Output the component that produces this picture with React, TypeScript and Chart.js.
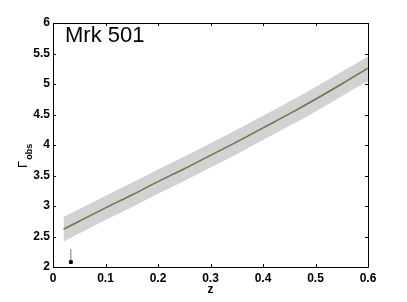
import React, { useEffect, useRef } from "react";
import { Chart, registerables } from "chart.js";

Chart.register(...registerables);

const zValues = [0.02, 0.05, 0.1, 0.15, 0.2, 0.25, 0.3, 0.35, 0.4, 0.45, 0.5, 0.55, 0.6];
const gammaMid = [2.62, 2.75, 2.97, 3.18, 3.4, 3.61, 3.83, 4.05, 4.28, 4.51, 4.75, 5.0, 5.26];
const gammaUpper = [2.82, 2.95, 3.17, 3.38, 3.6, 3.81, 4.03, 4.25, 4.48, 4.71, 4.95, 5.2, 5.45];
const gammaLower = [2.42, 2.55, 2.77, 2.98, 3.2, 3.41, 3.63, 3.85, 4.08, 4.31, 4.55, 4.8, 5.05];
const obsZ = [0.034];
const obsGamma = [2.08];
const obsGammaTop = [2.29];
const xTicks = [0, 0.1, 0.2, 0.3, 0.4, 0.5, 0.6];
const yTicks = [2, 2.5, 3, 3.5, 4, 4.5, 5, 5.5, 6];
const titleText = "Mrk 501";
const xTitle = "z";
const yTitleMain = "Γ";
const yTitleSub = "obs";

const framePlugin = {
  id: "frame",
  afterDraw(chart: any) {
    const { ctx, chartArea: a, scales } = chart;
    const xs = scales.x;
    const ys = scales.y;
    ctx.save();
    ctx.strokeStyle = "#000";
    ctx.lineWidth = 1;
    ctx.beginPath();
    ctx.rect(Math.round(a.left) + 0.5, Math.round(a.top) + 0.5, Math.round(a.right - a.left), Math.round(a.bottom - a.top));
    ctx.stroke();
    const L = 3;
    ctx.beginPath();
    xTicks.forEach((t) => {
      const px = Math.round(xs.getPixelForValue(t)) + 0.5;
      ctx.moveTo(px, a.bottom);
      ctx.lineTo(px, a.bottom - L);
      ctx.moveTo(px, a.top);
      ctx.lineTo(px, a.top + L);
    });
    yTicks.forEach((t) => {
      const py = Math.round(ys.getPixelForValue(t)) + 0.5;
      ctx.moveTo(a.left, py);
      ctx.lineTo(a.left + L, py);
      ctx.moveTo(a.right, py);
      ctx.lineTo(a.right - L, py);
    });
    ctx.stroke();

    ctx.fillStyle = "#000";
    ctx.font = "22px 'Liberation Sans', Arial, sans-serif";
    ctx.textAlign = "left";
    ctx.textBaseline = "alphabetic";
    ctx.fillText(titleText, a.left + 12, a.top + 19);

    ctx.font = "bold 12px 'Liberation Sans', Arial, sans-serif";
    ctx.textAlign = "center";
    ctx.fillText(xTitle, xs.getPixelForValue(0.3), 293);

    ctx.save();
    ctx.translate(27, 168);
    ctx.rotate(-Math.PI / 2);
    ctx.textAlign = "left";
    ctx.font = "13px 'Liberation Sans', Arial, sans-serif";
    ctx.fillText(yTitleMain, 0, 0);
    const w = ctx.measureText(yTitleMain).width;
    ctx.font = "bold 9px 'Liberation Sans', Arial, sans-serif";
    ctx.fillText(yTitleSub, w + 1, 5);
    ctx.restore();

    ctx.restore();
  },
};

const tickFont = { family: "'Liberation Sans', Arial, sans-serif", size: 12, weight: "bold" as const };

export default function App() {
  const ref = useRef<HTMLCanvasElement>(null);
  useEffect(() => {
    document.body.style.margin = "0";
    const band = (arr: number[]) => zValues.map((z, i) => ({ x: z, y: arr[i] }));
    const chart = new Chart(ref.current!, {
      type: "scatter",
      data: {
        datasets: [
          {
            data: band(gammaUpper),
            showLine: true,
            borderWidth: 0,
            pointRadius: 0,
            backgroundColor: "#d2d2d2",
            borderColor: "rgba(0,0,0,0)",
            fill: "+1",
            cubicInterpolationMode: "monotone",
            order: 3,
          },
          {
            data: band(gammaLower),
            showLine: true,
            borderWidth: 0,
            pointRadius: 0,
            borderColor: "rgba(0,0,0,0)",
            fill: false,
            cubicInterpolationMode: "monotone",
            order: 3,
          },
          {
            data: band(gammaMid),
            showLine: true,
            borderWidth: 1.5,
            pointRadius: 0,
            borderColor: "#6e734c",
            fill: false,
            cubicInterpolationMode: "monotone",
            order: 2,
          },
          {
            data: [
              { x: obsZ[0], y: obsGamma[0] },
              { x: obsZ[0], y: obsGammaTop[0] },
            ],
            showLine: true,
            borderWidth: 1,
            borderColor: "#777",
            pointRadius: 0,
            fill: false,
            order: 1,
          },
          {
            data: obsZ.map((z, i) => ({ x: z, y: obsGamma[i] })),
            pointRadius: 2,
            pointStyle: "rect",
            backgroundColor: "#000",
            borderColor: "#000",
            order: 0,
          },
        ],
      },
      options: {
        animation: false,
        responsive: false,
        layout: { padding: { top: 23, right: 39, left: 0, bottom: 0 } },
        plugins: { legend: { display: false }, tooltip: { enabled: false }, filler: { propagate: false } },
        scales: {
          x: {
            type: "linear",
            min: 0,
            max: 0.6,
            afterFit: (s: any) => {
              s.height = 35;
            },
            afterBuildTicks: (s: any) => {
              s.ticks = xTicks.map((v) => ({ value: v }));
            },
            grid: { display: false, drawTicks: false },
            border: { display: false },
            ticks: {
              padding: 4,
              color: "#000",
              font: tickFont,
              callback: (v: any) => String(Number(v)),
            },
          },
          y: {
            type: "linear",
            min: 2,
            max: 6,
            afterFit: (s: any) => {
              s.width = 53;
            },
            afterBuildTicks: (s: any) => {
              s.ticks = yTicks.map((v) => ({ value: v }));
            },
            grid: { display: false, drawTicks: false },
            border: { display: false },
            ticks: {
              padding: 3,
              color: "#000",
              font: tickFont,
              callback: (v: any) => String(Number(v)),
            },
          },
        },
      },
      plugins: [framePlugin],
    });
    return () => chart.destroy();
  }, []);
  return (
    <div style={{ position: "absolute", left: 0, top: 0, width: 407, height: 302, background: "#fff" }}>
      <canvas ref={ref} width={407} height={302} style={{ width: 407, height: 302 }} />
    </div>
  );
}
